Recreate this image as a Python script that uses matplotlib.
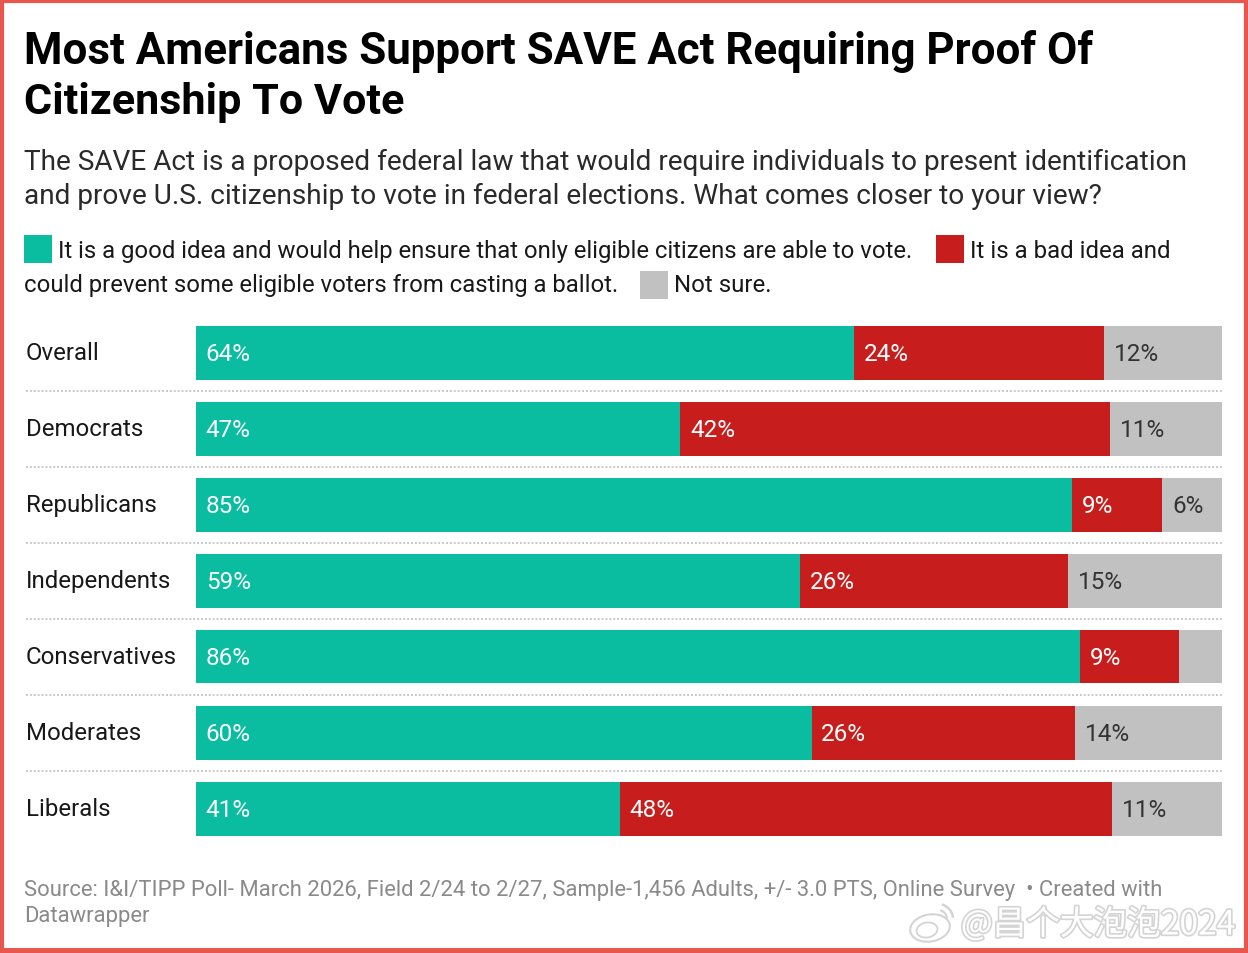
"""Barras empilhadas: pesquisa sobre o SAVE Act."""

import matplotlib
matplotlib.use("Agg")
import matplotlib.pyplot as plt
import matplotlib.patheffects as pe
from matplotlib.patches import Rectangle, Ellipse, Arc

W, H = 1248, 954
FONT = ["Roboto", "DejaVu Sans"]
CJK = ["Noto Sans CJK SC", "DejaVu Sans"]

groups = ["Overall", "Democrats", "Republicans", "Independents",
          "Conservatives", "Moderates", "Liberals"]
good = [64.1, 47.2, 85.4, 58.9, 86.2, 60.0, 41.3]
bad = [24.4, 41.9, 8.8, 26.1, 9.6, 25.7, 48.0]
unsure = [11.5, 10.9, 5.8, 15.0, 4.2, 14.3, 10.7]
good_labels = ["64%", "47%", "85%", "59%", "86%", "60%", "41%"]
bad_labels = ["24%", "42%", "9%", "26%", "9%", "26%", "48%"]
unsure_labels = ["12%", "11%", "6%", "15%", "", "14%", "11%"]

GREEN = "#0ABDA0"
RED = "#C71E1D"
GREY = "#C1C1C1"
BORDER = "#E8574E"

plt.rcParams["font.family"] = FONT


def px_text(ax, x, y, s, size_px, **kw):
    # tamanho em pixels -> pontos (dpi 100); y e a linha de base
    kw.setdefault("va", "baseline")
    kw.setdefault("color", "#181818")
    return ax.text(x, y, s, fontsize=size_px * 0.72, **kw)


fig = plt.figure(figsize=(W / 100, H / 100), dpi=100, facecolor="white")

# camada de fundo em coordenadas de pixel
bg = fig.add_axes([0, 0, 1, 1])
bg.set_xlim(0, W)
bg.set_ylim(H, 0)
bg.axis("off")

px_text(bg, 24, 64, "Most Americans Support SAVE Act Requiring Proof Of", 43.9,
        fontweight="bold", color="#000000")
px_text(bg, 24, 114, "Citizenship To Vote", 43.1, fontweight="bold", color="#000000")

for y, line in [
    (170, "The SAVE Act is a proposed federal law that would require individuals to present identification"),
    (204, "and prove U.S. citizenship to vote in federal elections. What comes closer to your view?"),
]:
    px_text(bg, 24, y, line, 27.98, color="#2a2a2a")

# legenda em texto corrido
bg.add_patch(Rectangle((24, 236), 28, 28, fc=GREEN, ec="none"))
px_text(bg, 58, 258.5, "It is a good idea and would help ensure that only eligible citizens are able to vote.", 23.9)
bg.add_patch(Rectangle((936, 236), 28, 28, fc=RED, ec="none"))
px_text(bg, 970, 258.5, "It is a bad idea and", 23.95)
px_text(bg, 24, 292.5, "could prevent some eligible voters from casting a ballot.", 23.9)
bg.add_patch(Rectangle((640, 272), 28, 28, fc=GREY, ec="none"))
px_text(bg, 674, 292.5, "Not sure.", 23.95)

# linhas pontilhadas entre as categorias
for i in range(len(groups) - 1):
    y = 391.5 + 76 * i
    bg.plot([26, 1222], [y, y], color="#c8c8c8", lw=1.4, ls=(0, (1, 1)))

for y, line in [
    (896, "Source: I&I/TIPP Poll- March 2026, Field 2/24 to 2/27, Sample-1,456 Adults, +/- 3.0 PTS, Online Survey  \u2022 Created with"),
    (922, "Datawrapper"),
]:
    px_text(bg, 24, y, line, 21.96, color="#8a8a8a")

# barras
top, bottom = 315, 847
ax = fig.add_axes([196 / W, 1 - (bottom + 0.5) / H, (1222 - 196) / W, (bottom - top) / H])
ax.patch.set_alpha(0)
ax.set_xlim(0, 100)
ax.set_ylim(len(groups) - 0.5, -0.5)
ax.axis("off")

for i, name in enumerate(groups):
    px_text(bg, 26, 360.5 + 76 * i, name, 24)
    left = 0
    for val, lab, col, tcol in [
        (good[i], good_labels[i], GREEN, "white"),
        (bad[i], bad_labels[i], RED, "white"),
        (unsure[i], unsure_labels[i], GREY, "#333333"),
    ]:
        ax.barh(i, val, left=left, height=54 / 76, color=col, linewidth=0)
        px_text(ax, left + 0.95, i + 7.5 / 76, lab, 24.2, color=tcol, ha="left")
        left += val

# marca d'agua
halo = [pe.withStroke(linewidth=2.4, foreground="#d4d4d4")]
bg.text(1098, 926, "@\u660c\u4e2a\u5927\u6ce1\u6ce12024", family=CJK, fontsize=24.2,
        color="white", ha="center", va="center", path_effects=halo, zorder=5)
bg.add_patch(Ellipse((930, 929), 40, 27, angle=-10, fc="white", ec="#d4d4d4", lw=1.5, zorder=5))
bg.add_patch(Ellipse((927, 931), 21, 15, angle=-10, fc="none", ec="#d4d4d4", lw=1.3, zorder=5))
bg.add_patch(Arc((938, 920), 30, 30, theta1=-75, theta2=-5, color="#d4d4d4", lw=1.8, zorder=5))
bg.add_patch(Arc((938, 920), 18, 18, theta1=-75, theta2=-5, color="#d4d4d4", lw=1.5, zorder=5))

# moldura vermelha
bg.add_patch(Rectangle((2, 2), W - 4, H - 4, fc="none", ec=BORDER, lw=3.0, zorder=10))
bg.add_patch(Rectangle((0, 949), W, 5, fc=BORDER, ec="none", zorder=10))

fig.savefig("out.png", dpi=100)
